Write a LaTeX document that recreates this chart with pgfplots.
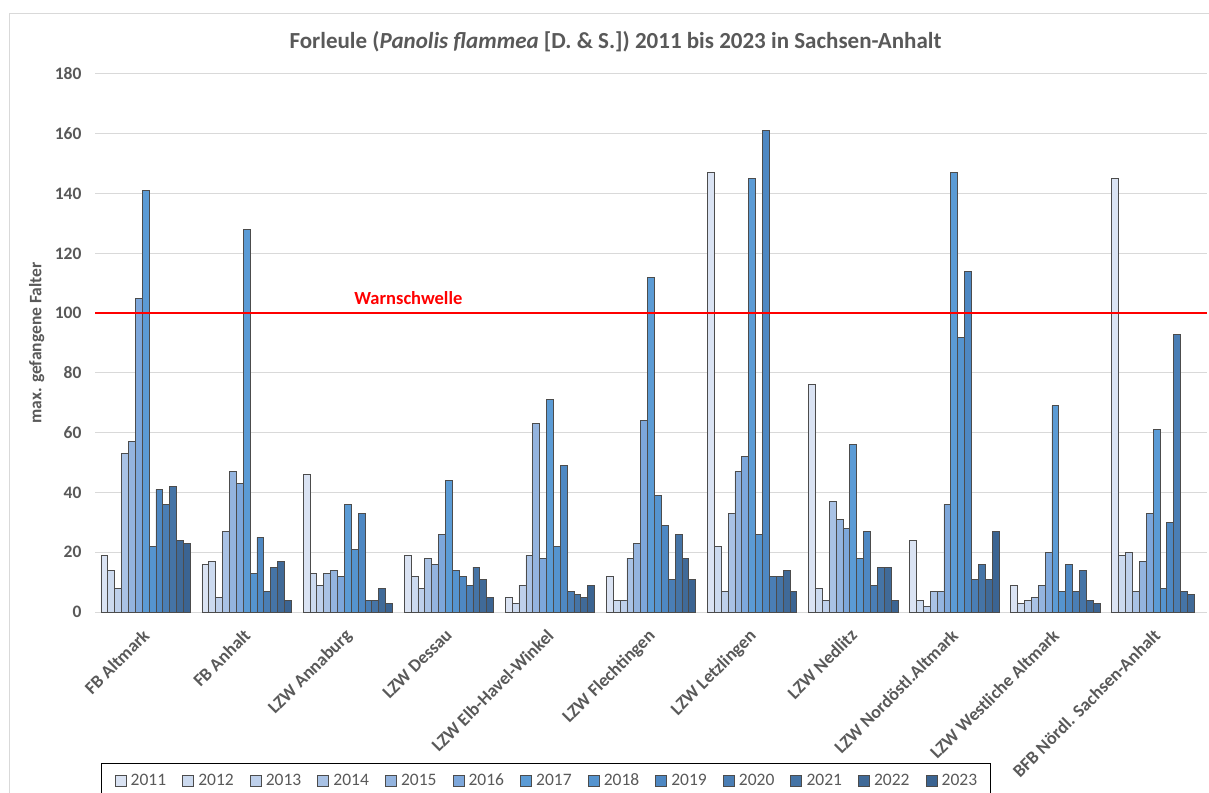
\documentclass[border=0pt]{standalone}
\usepackage{pgfplots}
\usepackage{pgfplotstable}
\pgfplotsset{compat=1.18}
\usepackage{fontspec}
\setmainfont{Carlito}
\definecolor{txt}{HTML}{595959}
\definecolor{grd}{HTML}{D9D9D9}
\definecolor{c2011}{HTML}{DAE3F3}
\definecolor{c2012}{HTML}{CCDAEF}
\definecolor{c2013}{HTML}{BED0EB}
\definecolor{c2014}{HTML}{A9C2E5}
\definecolor{c2015}{HTML}{94B4DF}
\definecolor{c2016}{HTML}{7DA7DB}
\definecolor{c2017}{HTML}{5B9BD5}
\definecolor{c2018}{HTML}{5594CF}
\definecolor{c2019}{HTML}{4E88C3}
\definecolor{c2020}{HTML}{4A7EB5}
\definecolor{c2021}{HTML}{4574A6}
\definecolor{c2022}{HTML}{406A98}
\definecolor{c2023}{HTML}{3B6492}

\pgfplotstableread{
x  y11 y12 y13 y14 y15 y16 y17 y18 y19 y20 y21 y22 y23
0  19  14  8   53  57  105 141 22  41  36  42  24  23
1  16  17  5   27  47  43  128 13  25  7   15  17  4
2  46  13  9   13  14  12  36  21  33  4   4   8   3
3  19  12  8   18  16  26  44  14  12  9   15  11  5
4  5   3   9   19  63  18  71  22  49  7   6   5   9
5  12  4   4   18  23  64  112 39  29  11  26  18  11
6  147 22  7   33  47  52  145 26  161 12  12  14  7
7  76  8   4   37  31  28  56  18  27  9   15  15  4
8  24  4   2   7   7   36  147 92  114 11  16  11  27
9  9   3   4   5   9   20  69  7   16  7   14  4   3
10 145 19  20  7   17  33  61  8   30  93  7   6   nan
}\data

\begin{document}
\begin{tikzpicture}
\useasboundingbox (0pt,0pt) rectangle (1209pt,792pt);
\draw[grd, line width=1.5pt] (9.3pt,-20pt) rectangle (1240pt,778.7pt);
\begin{axis}[
  at={(95pt,180pt)}, anchor=south west,
  scale only axis, width=1112pt, height=538pt,
  xmin=-0.5, xmax=10.5, ymin=0, ymax=180,
  ybar=0pt, bar width=0.068,
  ytick={0,20,...,180},
  ymajorgrids, grid style={draw=grd, line width=1pt},
  axis line style={draw=none},
  major tick length=0pt,
  xtick={0,...,10},
  xticklabels={FB Altmark, FB Anhalt, LZW Annaburg, LZW Dessau, LZW Elb-Havel-Winkel, LZW Flechtingen, LZW Letzlingen, LZW Nedlitz, LZW Nordöstl.Altmark, LZW Westliche Altmark, BFB Nördl. Sachsen-Anhalt},
  xticklabel style={xshift=-4pt, yshift=-11pt, rotate=45, anchor=north east, font=\fontsize{18}{20}\selectfont\bfseries, text=txt},
  yticklabel style={xshift=-10pt, font=\fontsize{17.5}{20}\selectfont\bfseries, text=txt},
  /pgf/number format/assume math mode=true,
  ylabel={max. gefangene Falter},
  ylabel style={at={(axis description cs:-0.0524,0.5)}, anchor=center, font=\fontsize{17.5}{20}\selectfont\bfseries, text=txt},
  every axis plot/.append style={draw=black!70, line width=0.7pt},
  legend columns=13,
  legend image code/.code={\draw[#1] (0pt,-5.5pt) rectangle (11pt,5.5pt);},
  legend style={at={(0.0051,-0.2812)}, anchor=north west, draw=black, line width=0.9pt,
    font=\fontsize{17.5}{20}\selectfont, text=txt,
    inner xsep=13.5pt, inner ysep=10pt,
    nodes={inner sep=0pt},
    /tikz/every odd column/.append style={column sep=4.4pt},
    /tikz/every even column/.append style={column sep=16pt}},
]
\addplot[fill=c2011] table[x=x,y=y11]{\data}; \addlegendentry{2011}
\addplot[fill=c2012] table[x=x,y=y12]{\data}; \addlegendentry{2012}
\addplot[fill=c2013] table[x=x,y=y13]{\data}; \addlegendentry{2013}
\addplot[fill=c2014] table[x=x,y=y14]{\data}; \addlegendentry{2014}
\addplot[fill=c2015] table[x=x,y=y15]{\data}; \addlegendentry{2015}
\addplot[fill=c2016] table[x=x,y=y16]{\data}; \addlegendentry{2016}
\addplot[fill=c2017] table[x=x,y=y17]{\data}; \addlegendentry{2017}
\addplot[fill=c2018] table[x=x,y=y18]{\data}; \addlegendentry{2018}
\addplot[fill=c2019] table[x=x,y=y19]{\data}; \addlegendentry{2019}
\addplot[fill=c2020] table[x=x,y=y20]{\data}; \addlegendentry{2020}
\addplot[fill=c2021] table[x=x,y=y21]{\data}; \addlegendentry{2021}
\addplot[fill=c2022] table[x=x,y=y22]{\data}; \addlegendentry{2022}
\addplot[fill=c2023] table[x=x,y=y23]{\data}; \addlegendentry{2023}
\addplot[draw=red, line width=1.5pt, sharp plot, mark=none, forget plot] coordinates {(-0.5,100) (10.5,100)};
\node[anchor=base, text=red, font=\fontsize{18.5}{20}\selectfont\bfseries] at (axis cs:2.6,102.8) {Warnschwelle};
\end{axis}
\node[text=txt, font=\fontsize{23}{26}\selectfont\bfseries] at (615.5pt,750pt) {Forleule (\textit{Panolis flammea} [D. \& S.]) 2011 bis 2023 in Sachsen-Anhalt};
\end{tikzpicture}
\end{document}
